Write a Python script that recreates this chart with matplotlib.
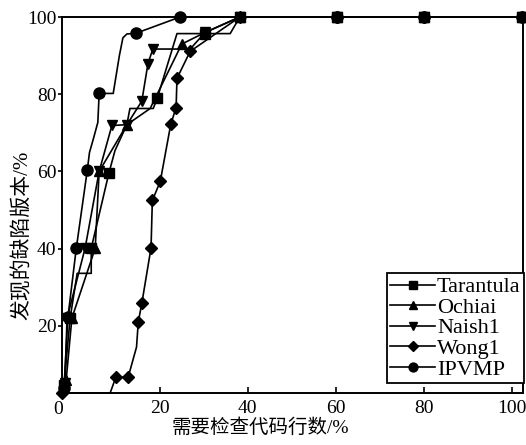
import matplotlib
matplotlib.use('Agg')
import matplotlib.pyplot as plt

# ---------------- data ----------------
x_ticks = [20, 40, 60, 80, 100]
y_ticks = [20, 40, 60, 80, 100]
series_names = ['Tarantula', 'Ochiai', 'Naish1', 'Wong1', 'IPVMP']
x_label = '需要检查代码行数/%'
y_label = '发现的缺陷版本/%'

tarantula_x = [-1.8, -0.4, 1.2, 4.4, 4.4, 8.4, 9.8, 12.5, 13.2, 18.5, 19.4, 23.9, 30.3, 36.0, 38.2, 60.3, 80.1, 102.4]
tarantula_y = [4.7, 22.0, 33.6, 33.6, 40.1, 59.5, 65.4, 72.1, 76.3, 76.3, 78.9, 95.7, 95.7, 95.7, 100, 100, 100, 100]

ochiai_x = [-1.3, 0.0, 5.3, 6.2, 12.5, 17.8, 25.0, 30.3, 38.2, 60.3, 80.1, 102.4]
ochiai_y = [6.0, 22.0, 40.1, 60.0, 72.1, 76.3, 93.0, 96.0, 100, 100, 100, 100]

naish1_x = [-1.6, -1.1, 3.0, 6.2, 9.1, 12.5, 15.9, 17.3, 18.4, 26.9, 30.3, 38.2, 60.3, 80.1, 102.4]
naish1_y = [5.2, 22.0, 40.1, 60.0, 71.9, 72.1, 78.2, 87.9, 91.7, 91.7, 96.0, 100, 100, 100, 100]

wong1_x = [-2.2, 8.7, 10.0, 12.8, 14.7, 15.1, 15.9, 18.0, 18.3, 20.1, 22.5, 23.7, 23.9, 26.9, 38.2, 60.3, 80.1, 102.4]
wong1_y = [2.6, 2.6, 6.7, 6.7, 14.5, 21.0, 25.8, 40.2, 52.5, 57.4, 72.3, 76.5, 84.1, 91.1, 100, 100, 100, 100]

ipvmp_x = [-1.8, -0.9, 1.0, 3.5, 4.0, 4.9, 5.9, 6.2, 9.4, 10.8, 11.6, 12.5, 14.6, 24.6, 60.3, 80.1, 102.4]
ipvmp_y = [3.9, 22.3, 40.1, 60.3, 64.9, 68.5, 72.7, 80.2, 80.2, 90.0, 94.6, 95.6, 95.8, 100, 100, 100, 100]

# ---------------- styling ----------------
serif = ['Liberation Serif', 'Noto Sans CJK SC']
plt.rcParams['font.family'] = serif

fig = plt.figure(figsize=(5.26, 4.45), dpi=100)
ax = fig.add_axes([62 / 526, 52 / 445, 461 / 526, 376 / 445])

series = [
    (tarantula_x, tarantula_y, 's', 6.5, [0, 1, 4, 5, 10, 12, 14, 15, 16, 17]),
    (ochiai_x, ochiai_y, '^', 7.5, [0, 1, 2, 3, 4, 6, 7, 8, 9, 10, 11]),
    (naish1_x, naish1_y, 'v', 7.5, [0, 1, 2, 3, 4, 5, 6, 7, 8, 10, 11, 12, 13, 14]),
    (wong1_x, wong1_y, 'D', 6.5, [0, 2, 3, 5, 6, 7, 8, 9, 10, 11, 12, 13, 14, 15, 16, 17]),
    (ipvmp_x, ipvmp_y, 'o', 8, [0, 1, 2, 3, 7, 12, 13, 14, 15, 16]),
]

handles = []
for (xs, ys, mk, ms, me), name in zip(series, series_names):
    ln, = ax.plot(xs, ys, color='black', linewidth=1.2, marker=mk, markersize=ms,
                  markevery=me, markerfacecolor='black', markeredgecolor='black',
                  clip_on=False, label=name, zorder=3)
    handles.append(ln)

ax.set_xlim(-2.25, 102.6)
ax.set_ylim(2.6, 100)
ax.set_xticks(x_ticks)
ax.set_yticks(y_ticks)
ax.tick_params(axis='x', direction='in', length=4, width=1.2, labelsize=14, pad=5,
               top=False)
ax.tick_params(axis='y', direction='out', length=3, width=1.2, labelsize=14, pad=1,
               right=False)
for sp in ax.spines.values():
    sp.set_linewidth(1.4)
    sp.set_color('black')

# corner "0" label shared by both axes
ax.text(-0.009, -0.02, '0', transform=ax.transAxes, ha='center', va='top',
        fontsize=14, family=serif)

ax.set_xlabel(x_label, fontsize=14, family=serif)
ax.xaxis.set_label_coords(0.43, -0.066)
ax.set_ylabel(y_label, fontsize=15, family=serif)
ax.yaxis.set_label_coords(-0.063, 0.42)

leg = ax.legend(handles=handles, loc='lower right', bbox_to_anchor=(1.002, 0.027),
                fontsize=16, frameon=True, fancybox=False, framealpha=1,
                edgecolor='black', borderaxespad=0, borderpad=0.15,
                labelspacing=0.0, handlelength=2.0, handletextpad=0.1,
                markerscale=0.8)
leg.get_frame().set_linewidth(1.3)

fig.savefig('out.png', dpi=100)
